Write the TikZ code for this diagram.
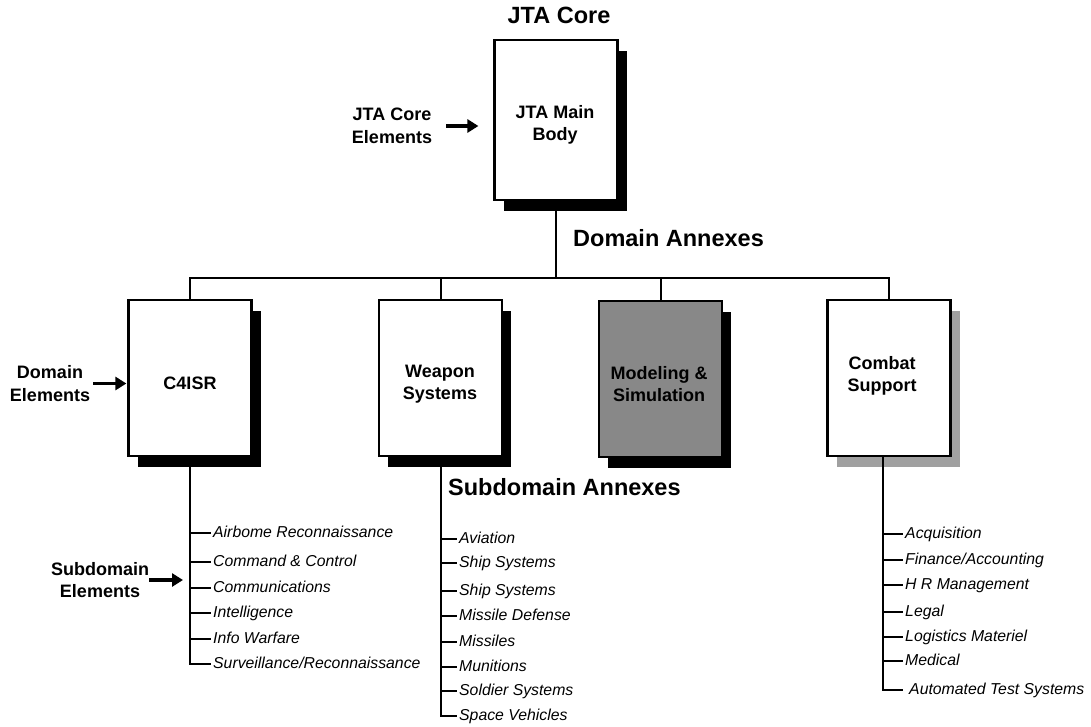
\documentclass[tikz,border=0pt]{standalone}
\usepackage{fontspec}
\setmainfont{Liberation Sans}
\usetikzlibrary{arrows.meta,shadows}
\definecolor{msgray}{RGB}{136,136,136}
\definecolor{shgray}{RGB}{160,160,160}
\begin{document}
\begin{tikzpicture}[x=1pt,y=-1pt,
  box/.style={draw=black, line width=2.2pt, fill=white, minimum width=123pt, minimum height=156pt,
    inner sep=0pt,
    drop shadow={shadow xshift=9pt, shadow yshift=-11pt, fill=black, opacity=1}},
  btext/.style={align=center, inner sep=0pt, font=\fontsize{18}{22.5}\selectfont\bfseries},
  lbl/.style={align=center, inner sep=0pt, font=\fontsize{18}{22.5}\selectfont\bfseries},
  head/.style={inner sep=0pt, font=\fontsize{23.5}{28}\selectfont\bfseries},
  item/.style={anchor=west, inner xsep=2pt, inner ysep=0pt, text height=11pt, text depth=3pt,
    font=\fontsize{15.8}{18}\selectfont\itshape},
  conn/.style={line width=2pt},
  arr/.style={line width=3.6pt, -{Triangle[length=11pt,width=13pt]}}
]
\useasboundingbox (0,0) rectangle (1091,726);

% headings
\node[head, anchor=base] (hcore) at (559,23) {JTA Core};
\node[head, anchor=base west] (hdom) at (573,246) {Domain Annexes};
\node[head, anchor=base west] (hsub) at (448,495) {Subdomain Annexes};

% boxes
\node[box, minimum height=160pt] (jta) at (556,120) {};
\node[box] (c4) at (190,378) {};
\node[box] (ws) at (440.5,378) {};
\node[box, fill=msgray] (ms) at (660.5,379) {};
\node[box, drop shadow={shadow xshift=9pt, shadow yshift=-11pt, fill=shgray, opacity=1}] (cs) at (889,378) {};

% box texts
\node[btext] (jtat) at (555,125) {JTA Main\\Body};
\node[btext] (c4t) at (190,383) {C4ISR};
\node[btext] (wst) at (440,384) {Weapon\\Systems};
\node[btext] (mst) at (659,384) {Modeling \&\\Simulation};
\node[btext] (cst2) at (882,376) {Combat\\Support};

% bus
\coordinate (bus) at (556,278);
\draw[conn] (jta.south) -- (jta.south |- bus);
\draw[conn] (c4.north) -- (c4.north |- bus) -- (cs.north |- bus) -- (cs.north);
\draw[conn] (ws.north) -- (ws.north |- bus);
\draw[conn] (ms.north) -- (ms.north |- bus);

% side labels
\node[lbl] (jce) at (392,126) {JTA Core\\Elements};
\draw[arr, shorten <=14pt, shorten >=15pt] (jce.east) -- (jce.east -| jta.west);
\node[lbl] (de) at (50,383.5) {Domain\\Elements};
\draw[arr, shorten <=3pt, shorten >=1pt] (de.east) -- (de.east -| c4.west);
\node[lbl] (se) at (100,580) {Subdomain\\Elements};
\coordinate (c4trunk) at (190,580);
\draw[arr, shorten <=0pt, shorten >=7pt] (se.east) -- (c4trunk);

% C4ISR subdomains
\node[item] (c1) at (211,533) {Airbome Reconnaissance};
\node[item] (c2) at (211,562) {Command \& Control};
\node[item] (c3) at (211,588) {Communications};
\node[item] (c5) at (211,613) {Intelligence};
\node[item] (c6) at (211,639) {Info Warfare};
\node[item] (c7) at (211,664) {Surveillance/Reconnaissance};
\draw[conn] (c4.south) -- (c4.south |- c7.west) -- (c7.west);
\foreach \n in {c1,c2,c3,c5,c6} \draw[conn] (c4.south |- \n.west) -- (\n.west);

% Weapon subdomains
\node[item] (w1) at (457,539) {Aviation};
\node[item] (w2) at (457,563) {Ship Systems};
\node[item] (w3) at (457,591) {Ship Systems};
\node[item] (w4) at (457,616) {Missile Defense};
\node[item] (w5) at (457,642) {Missiles};
\node[item] (w6) at (457,667) {Munitions};
\node[item] (w7) at (457,691) {Soldier Systems};
\node[item] (w8) at (457,716) {Space Vehicles};
\draw[conn] (ws.south) -- (ws.south |- w8.west) -- (w8.west);
\foreach \n in {w1,w2,w3,w4,w5,w6,w7} \draw[conn] (ws.south |- \n.west) -- (\n.west);

% Combat support subdomains
\coordinate (cst) at (883,455);
\node[item] (k1) at (903,534) {Acquisition};
\node[item] (k2) at (903,560) {Finance/Accounting};
\node[item] (k3) at (903,585) {H R Management};
\node[item] (k4) at (903,612) {Legal};
\node[item] (k5) at (903,637) {Logistics Materiel};
\node[item] (k6) at (903,661) {Medical};
\node[item, inner xsep=6pt] (k7) at (903,690) {Automated Test Systems};
\draw[conn] (cst) -- (cst |- k7.west) -- (k7.west);
\foreach \n in {k1,k2,k3,k4,k5,k6} \draw[conn] (cst |- \n.west) -- (\n.west);
\end{tikzpicture}
\end{document}
